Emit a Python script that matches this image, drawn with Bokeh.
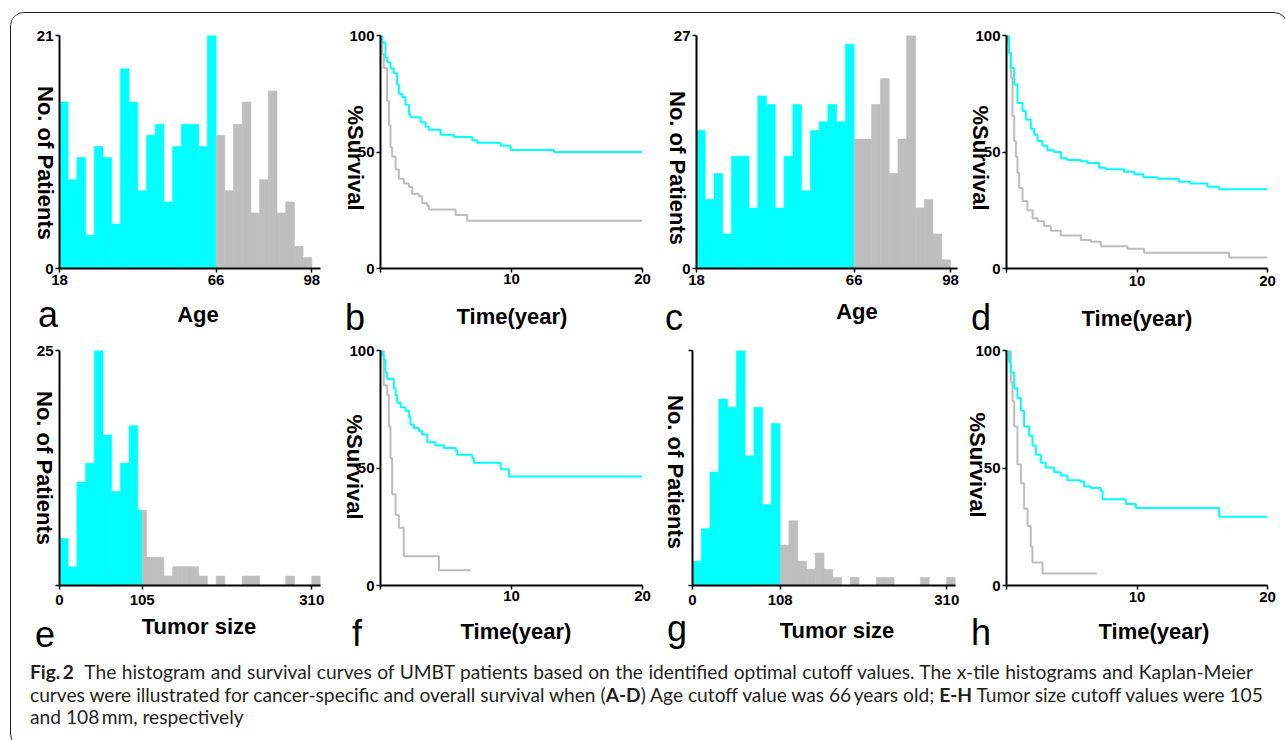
from bokeh.plotting import figure
from bokeh.models import Range1d, FixedTicker, Div
from bokeh.layouts import row, column
from bokeh.embed import file_html
from bokeh.resources import INLINE

# ---------------------------------------------------------------- data
# X-tile histograms: number of patients per bin (bins in index order)
age_css_counts = [15, 8, 10, 3, 11, 10, 4, 18, 15, 7, 12, 13, 6, 11, 13, 13, 11, 21,
                  12, 7, 13, 15, 5, 8, 16, 5, 6, 2, 1]
age_os_counts = [16, 8, 11, 4, 13, 13, 7, 20, 19, 7, 13, 19, 9, 16, 17, 19, 17, 26,
                 15, 15, 19, 22, 11, 15, 27, 7, 8, 4, 1]
size_css_counts = [5, 2, 11, 13, 25, 16, 10, 13, 17, 8,
                   3, 3, 1, 2, 2, 2, 1, 0, 1, 0, 0, 1, 1, 0, 0, 0, 1, 0, 0, 1]
size_os_counts = [3, 7, 14, 23, 22, 29, 16, 22, 10, 20,
                  5, 8, 3, 2, 4, 2, 1, 0, 1, 0, 0, 1, 1, 0, 0, 0, 1, 0, 0, 1]

# cutoff position (in bin units) and tick labels of the histograms
age_cut = 18
size_css_cut = 9.5
size_os_cut = 10
age_tick_pos = [0, 18, 29]
age_tick_labels = ["18", "66", "98"]
size_css_tick_pos = [0, 9.5, 29]
size_css_tick_labels = ["0", "105", "310"]
size_os_tick_pos = [0, 10, 29]
size_os_tick_labels = ["0", "108", "310"]
age_css_ymax = 21
age_os_ymax = 27
size_css_ymax = 25
size_os_ymax = 29

# Kaplan-Meier curves (time in years, % survival); low = below cutoff (cyan)
b_low_t = [0, 0.13, 0.38, 0.51, 0.76, 1.02, 1.27, 1.4, 1.66, 1.91, 2.17, 2.29, 3.06, 3.44,
           3.69, 4.59, 5.6, 7.0, 7.39, 9.17, 9.94, 13.25, 20]
b_low_s = [100, 97, 90.5, 88.5, 85.8, 83.8, 79, 75, 73.6, 70.3, 66.2, 64.9, 62.8, 60.8,
           59.5, 57.4, 56.4, 55, 54, 52.7, 50.9, 50, 50]
b_high_t = [0, 0.15, 0.25, 0.5, 0.64, 0.76, 0.89, 1.15, 1.4, 1.78, 2.17, 2.42, 2.93, 3.18,
            3.57, 3.69, 5.73, 6.62, 20]
b_high_s = [100, 92, 86, 72, 61.5, 52, 48, 42.5, 38.5, 36.5, 35, 32, 31, 28,
            27, 25.3, 23, 20.5, 20.5]

d_low_t = [0, 0.2, 0.33, 0.59, 0.84, 1.23, 1.48, 1.86, 2.12, 2.38, 2.76, 3.14, 3.65, 4.16,
           4.67, 5.7, 6.2, 7.1, 7.6, 9.0, 9.8, 10.5, 11.6, 13.2, 14.1, 15.4, 16.3, 20]
d_low_s = [100, 92.5, 86, 79, 71, 67.6, 64, 60, 57.4, 54.7, 52.7, 50.7, 50, 47.3,
           46.6, 46, 45.3, 43.2, 42.6, 41.5, 40.5, 39.2, 38.5, 37.2, 36.5, 35.1, 34, 34]
d_high_t = [0, 0.12, 0.2, 0.33, 0.46, 0.59, 0.72, 0.84, 0.97, 1.23, 1.6, 2.0, 2.38, 2.89,
            3.4, 4.16, 5.7, 6.46, 7.23, 9.27, 10.55, 17.06, 20]
d_high_s = [100, 97, 92.5, 82, 65.5, 54.7, 48, 41, 34.5, 29, 25, 21.6, 20.3, 18.2,
            16.2, 14.2, 12.2, 11.5, 9.5, 8.5, 6.8, 4.7, 4.7]

f_low_t = [0, 0.15, 0.25, 0.38, 0.51, 1.02, 1.15, 1.27, 1.53, 1.91, 2.17, 2.29, 2.55, 2.93,
           3.18, 3.57, 4.2, 4.84, 5.73, 5.86, 7.0, 7.13, 9.17, 9.81, 20]
f_low_s = [100, 98, 96, 90.6, 87.9, 83.9, 81, 77.8, 75.8, 74.4, 71.7, 68.4, 67, 65.7,
           64.3, 61, 59.6, 58.5, 57.6, 55.6, 54.2, 52.2, 49.5, 46.4, 46.4]
f_high_t = [0, 0.25, 0.51, 0.64, 0.76, 0.89, 1.15, 1.4, 1.78, 4.46, 6.88]
f_high_s = [100, 85.2, 81.2, 67.7, 54.2, 38.8, 30, 24.6, 12.5, 6.5, 6.5]

h_low_t = [0, 0.2, 0.33, 0.59, 0.84, 1.1, 1.35, 1.74, 1.99, 2.25, 2.63, 3.01, 3.65, 4.16,
           4.67, 5.7, 5.95, 6.46, 7.23, 7.36, 9.14, 9.91, 16.3, 20]
h_low_s = [100, 95, 90.6, 83.9, 79.8, 74.4, 67.7, 63.7, 59.6, 55.6, 52.2, 50.2, 48.2, 46.8,
           44.8, 44.1, 42.1, 41.5, 40.1, 36.7, 34.7, 33, 29.3, 29.3]
h_high_t = [0, 0.33, 0.46, 0.59, 0.84, 1.1, 1.35, 1.61, 1.86, 1.99, 2.76, 6.92]
h_high_s = [100, 86.5, 78.5, 67.7, 51.5, 43.5, 32.7, 25.3, 16.6, 9.8, 5.1, 5.1]

km_x_ticks = [0, 10, 20]
km_x_labels = ["", "10", "20"]
km_y_ticks = [0, 50, 100]
km_y_labels = ["0", "50", "100"]

caption_line1 = ("<b>Fig.&#8201;2</b>&nbsp;&nbsp;The histogram and survival curves of UMBT patients "
                 "based on the identified optimal cutoff values. The x-tile histograms and Kaplan-Meier")
caption_line2 = ("curves were illustrated for cancer-specific and overall survival when (<b>A-D</b>) "
                 "Age cutoff value was 66&#8201;years old; <b>E-H</b> Tumor size cutoff values were 105")
caption_line3 = "and 108&#8201;mm, respectively"

# ---------------------------------------------------------------- style
CYAN = "#00FFFF"
GREY_BAR = "#BEBEBE"
GREY_LINE = "#BDBDBD"
FONT = "Liberation Sans"
OVL_X, OVL_Y = 11, 645          # page position of the caption box (overlay origin)


def make_panel(fig_box, frame_box, xr, yr):
    fl, ft, fr, fb = fig_box
    al, at, ar, ab = frame_box
    p = figure(width=fr - fl, height=fb - ft, title=None,
               x_range=Range1d(*xr), y_range=Range1d(*yr),
               output_backend="svg", toolbar_location=None,
               min_border_left=al - fl, min_border_right=fr - ar,
               min_border_top=at - ft, min_border_bottom=fb - ab)
    p.outline_line_color = None
    p.xgrid.visible = False
    p.ygrid.visible = False
    p.background_fill_color = "white"
    p.border_fill_color = "white"
    for ax in (p.xaxis[0], p.yaxis[0]):
        ax.axis_line_width = 2
        ax.axis_line_color = "black"
        ax.major_tick_line_width = 1.5
        ax.major_tick_line_color = "black"
        ax.major_tick_out = 4
        ax.major_tick_in = 0
        ax.minor_tick_line_color = None
        ax.major_label_text_font = FONT
        ax.major_label_text_font_style = "bold"
        ax.major_label_text_font_size = "15px"
        ax.major_label_text_color = "black"
        ax.major_label_standoff = 2
    return p


def set_ticks(axis, pos, labels, standoff):
    axis.ticker = FixedTicker(ticks=list(pos))
    axis.major_label_overrides = {k: v for k, v in zip(pos, labels)}
    axis.major_label_standoff = standoff


def draw_hist(p, counts, cut):
    cl, cr, ct, gl, gr, gt = [], [], [], [], [], []
    for i, c in enumerate(counts):
        if c == 0:
            continue
        if i < cut:
            cl.append(i); cr.append(min(i + 1, cut)); ct.append(c)
        if i + 1 > cut:
            gl.append(max(i, cut)); gr.append(i + 1); gt.append(c)
    p.quad(left=cl, right=cr, bottom=0, top=ct, fill_color=CYAN,
           line_color=CYAN, line_width=0.6)
    p.quad(left=gl, right=gr, bottom=0, top=gt, fill_color=GREY_BAR,
           line_color=GREY_BAR, line_width=0.6)


def hist_panel(fig_box, frame_box, counts, cut, ymax, xmax, tpos, tlabels, y_labels, x_standoff):
    p = make_panel(fig_box, frame_box, (0, xmax), (0, ymax))
    draw_hist(p, counts, cut)
    set_ticks(p.xaxis[0], tpos, tlabels, x_standoff)
    set_ticks(p.yaxis[0], [0, ymax], y_labels, 2)
    return p


def km_panel(fig_box, frame_box, low_t, low_s, high_t, high_s, x_standoff):
    p = make_panel(fig_box, frame_box, (0, 20), (0, 100))
    p.step(x=high_t, y=high_s, mode="after", line_color=GREY_LINE, line_width=2)
    p.step(x=low_t, y=low_s, mode="after", line_color=CYAN, line_width=2)
    set_ticks(p.xaxis[0], km_x_ticks, km_x_labels, x_standoff)
    set_ticks(p.yaxis[0], km_y_ticks, km_y_labels, 2)
    return p


# panel geometry in page pixels: figure box and frame box (left, top, right, bottom)
pa = hist_panel((11, 13, 338, 328), (59, 34, 320, 268), age_css_counts, age_cut,
                age_css_ymax, 30, age_tick_pos, age_tick_labels, ["0", "21"], 2)
pb = km_panel((338, 13, 655, 328), (380, 35, 642, 282), b_low_t, b_low_s, b_high_t, b_high_s, 1)
pc = hist_panel((655, 13, 962, 328), (696, 34, 957, 268), age_os_counts, age_cut,
                age_os_ymax, 29.8, age_tick_pos, age_tick_labels, ["0", "27"], 2)
pd = km_panel((962, 13, 1277, 328), (1006, 35, 1267, 282), d_low_t, d_low_s, d_high_t, d_high_s, 3)
pe = hist_panel((11, 328, 338, 645), (59, 350, 320, 585), size_css_counts, size_css_cut,
                size_css_ymax, 30, size_css_tick_pos, size_css_tick_labels, ["", "25"], 5)
pf = km_panel((338, 328, 655, 645), (380, 350, 642, 598), f_low_t, f_low_s, f_high_t, f_high_s, 1)
pg = hist_panel((655, 328, 962, 645), (692, 350, 955, 585), size_os_counts, size_os_cut,
                size_os_ymax, 30, size_os_tick_pos, size_os_tick_labels, ["", ""], 5)
ph = km_panel((962, 328, 1277, 645), (1006, 350, 1267, 598), h_low_t, h_low_s, h_high_t, h_high_s, 2)

# axis titles and panel letters (page pixels)
y_titles = [("No. of Patients", 40, 158), ("%Survival", 350, 153),
            ("No. of Patients", 672, 163), ("%Survival", 975, 153),
            ("No. of Patients", 39, 463), ("%Survival", 349, 462),
            ("No. of Patients", 670, 467), ("%Survival", 972, 460)]
x_titles = [("Age", 193, 318), ("Time(year)", 507, 320), ("Age", 852, 315),
            ("Time(year)", 1132, 322), ("Tumor size", 194, 630), ("Time(year)", 511, 635),
            ("Tumor size", 832, 634), ("Time(year)", 1149, 635)]
letters = [("a", 33, 322), ("b", 340, 325), ("c", 660, 325), ("d", 966, 325),
           ("e", 30, 642), ("f", 347, 641), ("g", 662, 636), ("h", 966, 640)]

FONT_CSS = "font-family:'Liberation Sans',Arial,sans-serif;line-height:1;white-space:nowrap;color:#000;"


def ovl_rot(text, cx, cy, size=22):
    return ('<span style="position:absolute;left:%dpx;top:%dpx;font-weight:bold;font-size:%dpx;%s'
            'transform:translate(-50%%,-50%%) rotate(90deg);">%s</span>'
            % (cx - OVL_X, cy - OVL_Y, size, FONT_CSS, text))


def ovl_center(text, cx, by, size=22):
    top = by - 0.8465 * size
    return ('<span style="position:absolute;left:%dpx;top:%.1fpx;font-weight:bold;font-size:%dpx;%s'
            'transform:translateX(-50%%);">%s</span>'
            % (cx - OVL_X, top - OVL_Y, size, FONT_CSS, text))


def ovl_left(text, lx, by, size=36):
    top = by - 0.8465 * size
    return ('<span style="position:absolute;left:%dpx;top:%.1fpx;font-weight:normal;font-size:%dpx;%s">%s</span>'
            % (lx - OVL_X, top - OVL_Y, size, FONT_CSS, text))


overlay = "".join([ovl_rot(*t) for t in y_titles] + [ovl_center(*t) for t in x_titles]
                  + [ovl_left(*t) for t in letters])

line_style = "text-align:justify;text-align-last:justify;white-space:nowrap;"
caption_html = (
    '<div style="position:relative;width:1266px;height:92px;overflow:visible;">'
    '<div style="font-family:Lato,\'Open Sans\',sans-serif;font-size:19.2px;line-height:22.5px;'
    'color:#231f20;padding:11px 0 0 14px;width:1237px;">'
    f'<div style="{line_style}">{caption_line1}</div>'
    f'<div style="{line_style}">{caption_line2}</div>'
    f'<div>{caption_line3}</div>'
    '</div>' + overlay + '</div>'
)
cap = Div(text=caption_html, width=1266, height=92, styles={"overflow": "visible"})

layout = column(row(pa, pb, pc, pd), row(pe, pf, pg, ph), cap,
                styles={"border": "1px solid #231f20", "border-radius": "14px",
                        "overflow": "hidden", "margin-left": "10px", "margin-top": "12px"})

open("out.html", "w").write(file_html(layout, INLINE))
